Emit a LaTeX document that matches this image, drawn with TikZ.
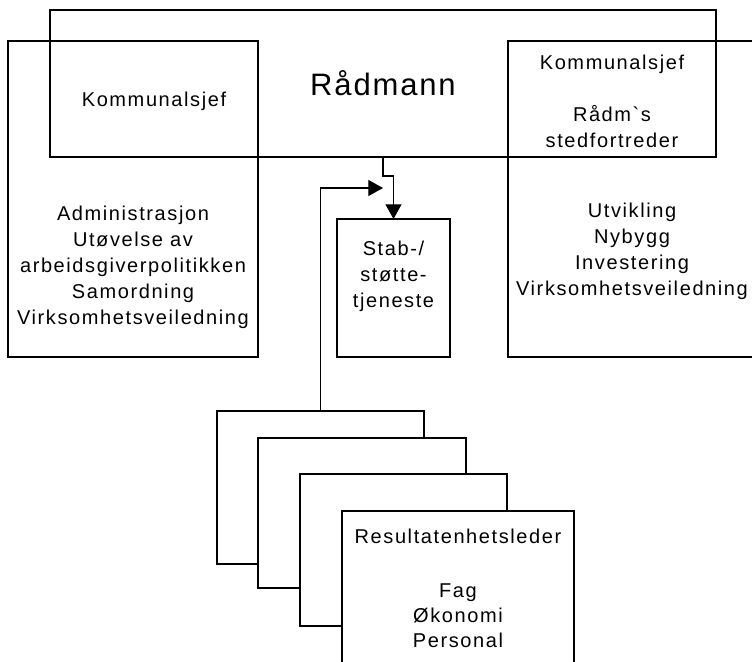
\documentclass[tikz,border=0pt]{standalone}
\usepackage{fontspec}
\usetikzlibrary{arrows.meta}
% Arial-metric sans with the slightly open tracking of the chart
\newfontfamily\orgfont{Liberation Sans}[LetterSpace=8]
\newfontfamily\orgtitlefont{Liberation Sans}[LetterSpace=6]

\begin{document}
\begin{tikzpicture}[x=0.75pt,y=-0.75pt,
  frame/.style={draw=black, line width=0.8pt, inner sep=0pt, outer sep=0pt},
  card/.style={frame, fill=white},
  % multi-line labels are placed by the baseline of their last line
  txt/.style={inner sep=0pt, align=center, anchor=base,
    font=\orgfont\fontsize{15}{19.5}\selectfont},
  link/.style={draw=black, line width=0.8pt, -{Triangle[length=11pt,width=12pt]}}]

\useasboundingbox (0,0) rectangle (752,661);
\clip (0,0) rectangle (752,661);

% top management and the two head-of-department areas (outlines only)
\node[frame, minimum width=666*0.75pt, minimum height=147*0.75pt] (radmann) at (383,83.5) {};
\node[frame, minimum width=250*0.75pt, minimum height=316*0.75pt] (kleft) at (133,199) {};
\node[frame, minimum width=248*0.75pt, minimum height=316*0.75pt] (kright) at (632,199) {};
\node[frame, minimum width=113*0.75pt, minimum height=138*0.75pt] (stab) at (393.5,288) {};

% stacked unit cards
\node[card, minimum width=207*0.75pt, minimum height=153*0.75pt] (res1) at (320.5,487.5) {};
\node[card, minimum width=208*0.75pt, minimum height=150*0.75pt] (res2) at (362,513) {};
\node[card, minimum width=207*0.75pt, minimum height=152*0.75pt] (res3) at (403.5,550) {};
\node[card, minimum width=232*0.75pt, minimum height=189*0.75pt] (res4) at (458,605.5) {};

% connectors
\draw[link] (radmann.south) -- ++(0,19) -| (stab.north);
\coordinate (staffIn) at (383,188);
\draw[link] (res1.north) |- (staffIn);

% labels
\node[txt, font=\orgtitlefont\fontsize{23.25}{28}\selectfont] (radmannLabel) at (383,95) {Rådmann};
\node[txt] (kleftHead) at (154,106) {Kommunalsjef};
\node[txt] (krightHead) at (612,147) {Kommunalsjef\\[19.5pt]Rådm`s\\stedfortreder};
\node[txt] (kleftBody) at (133,324) {Administrasjon\\Utøvelse av\\arbeidsgiverpolitikken\\Samordning\\Virksomhetsveiledning};
\node[txt] (krightBody) at (632,295) {Utvikling\\Nybygg\\Investering\\Virksomhetsveiledning};
\node[txt] (stabLabel) at (393.5,307) {Stab-/\\støtte-\\tjeneste};
\node[txt, font=\orgfont\fontsize{15}{18.75}\selectfont] (res4Label) at (458,647) {Resultatenhetsleder\\[21.75pt]Fag\\Økonomi\\Personal};
\end{tikzpicture}
\end{document}
